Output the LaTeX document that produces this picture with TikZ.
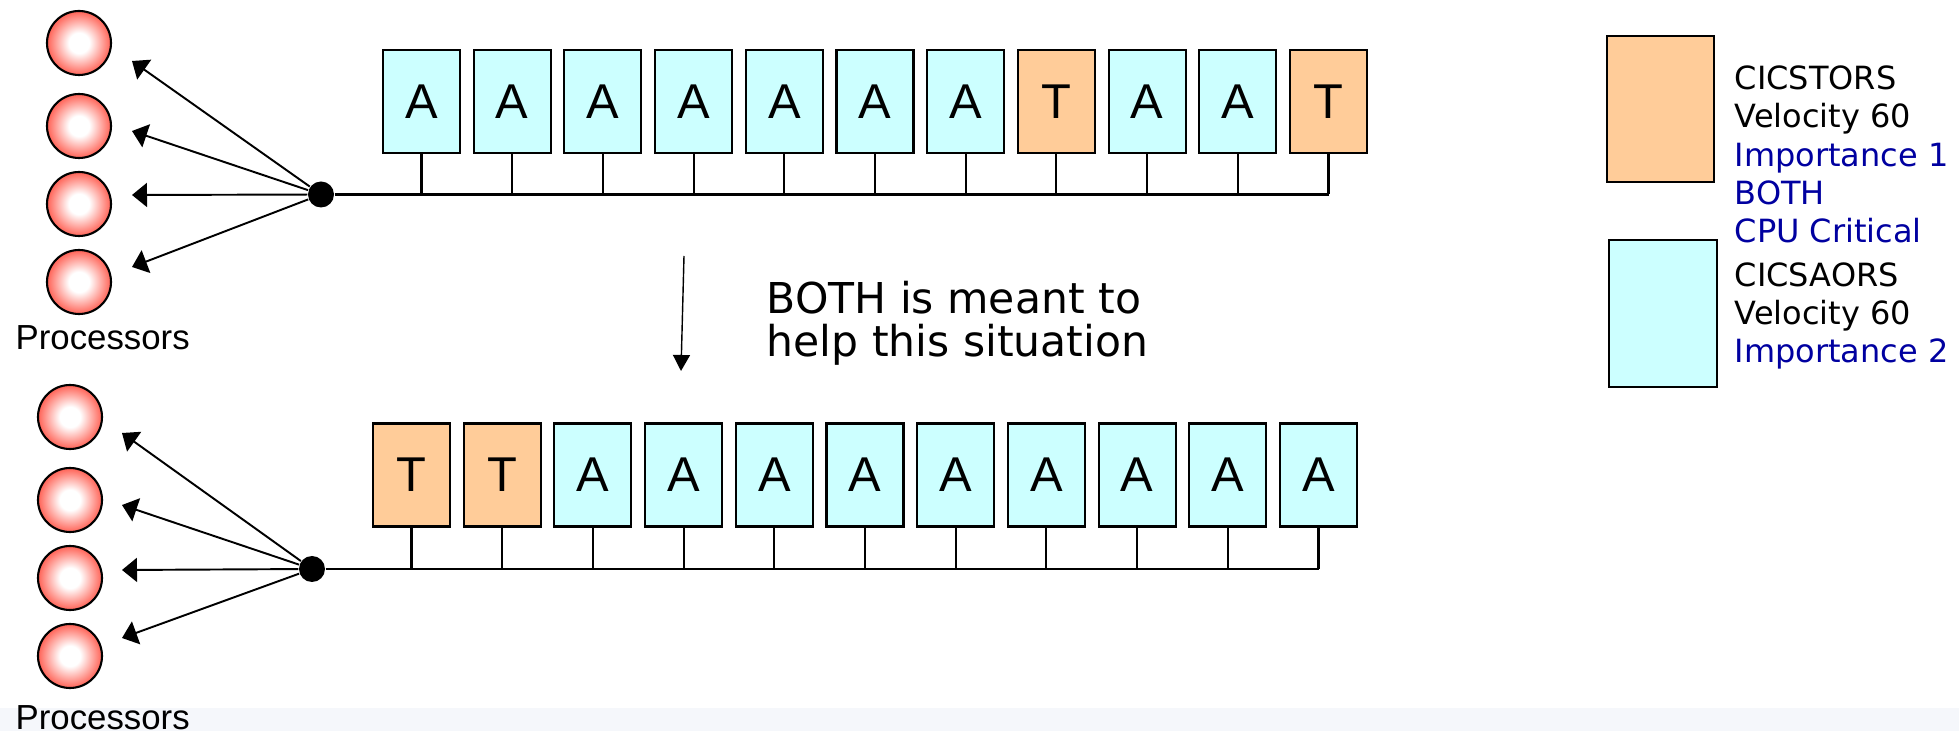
\documentclass[tikz,border=0pt]{standalone}
\usepackage{fontspec}
\setmainfont{Liberation Sans}
\newfontfamily\legendfont{DejaVu Sans}
\usetikzlibrary{arrows.meta}

\definecolor{colA}{HTML}{CCFFFF}
\definecolor{colT}{HTML}{FFCC99}
\definecolor{cpured}{HTML}{FF3424}
\definecolor{wlmblue}{HTML}{0000A0}
\definecolor{bandgray}{HTML}{F5F7FB}
\pgfdeclareradialshading{cpuball}{\pgfpoint{0bp}{0bp}}{color(0bp)=(white); color(8bp)=(white); color(30bp)=(cpured); color(50bp)=(cpured)}

\begin{document}
\begin{tikzpicture}[
  regbox/.style={draw,line width=.6pt,minimum width=.77cm,minimum height=1.03cm,inner sep=0pt,font=\fontsize{13.9}{16}\selectfont},
  cpu/.style={circle,draw,line width=.6pt,minimum size=.64cm,inner sep=0pt,shade,shading=cpuball},
  hub/.style={circle,fill=black,minimum size=.26cm,inner sep=0pt},
  feed/.style={line width=.55pt,-{Triangle[length=.15cm,width=.24cm]}},
  stem/.style={line width=.6pt},
  bus/.style={line width=.8pt},
  keybox/.style={draw,line width=.6pt,inner sep=0pt},
  cpulabel/.style={anchor=base west,inner sep=0pt,font=\fontsize{9.9}{11}\selectfont},
  legtext/.style={anchor=base west,inner sep=0pt,font=\legendfont\fontsize{9.1}{11}\selectfont}]
  \useasboundingbox (0,0) rectangle (19.59,-7.31);
  \fill[bandgray] (0,-7.08) rectangle (19.59,-7.31);

  % upper queue: mixed order
  \node[hub] (hub1) at (3.21,-1.945) {};
  \foreach \y [count=\k] in {-.43,-1.26,-2.04,-2.82} {
    \node[cpu] (cpuU\k) at (.79,\y) {};
  }
  \foreach \y [count=\k] in {-.61,-1.31,-1.95,-2.67} {
    \coordinate (tipU\k) at (1.32,\y);
    \draw[feed] (hub1) -- (tipU\k);
  }
  \node[cpulabel] (labU) at (.15,-3.50) {Processors};
  \foreach \l [count=\i from 0] in {A,A,A,A,A,A,A,T,A,A,T} {
    \node[regbox,fill=col\l] (top\i) at (4.215+.907*\i,-1.015) {\l};
    \draw[stem] (top\i.south) -- (top\i.south |- hub1);
  }
  \draw[bus] (hub1) -- (top10.south |- hub1);

  % lower queue: TORs first
  \node[hub] (hub2) at (3.12,-5.69) {};
  \foreach \y [count=\k] in {-4.17,-5.00,-5.78,-6.56} {
    \node[cpu] (cpuL\k) at (.70,\y) {};
  }
  \foreach \y [count=\k] in {-4.33,-5.05,-5.70,-6.38} {
    \coordinate (tipL\k) at (1.22,\y);
    \draw[feed] (hub2) -- (tipL\k);
  }
  \node[cpulabel] (labL) at (.15,-7.30) {Processors};
  \foreach \l [count=\i from 0] in {T,T,A,A,A,A,A,A,A,A,A} {
    \node[regbox,fill=col\l] (bot\i) at (4.115+.907*\i,-4.75) {\l};
    \draw[stem] (bot\i.south) -- (bot\i.south |- hub2);
  }
  \draw[bus] (hub2) -- (bot10.south |- hub2);

  % transition
  \coordinate (down0) at (6.84,-2.56);
  \coordinate (down1) at (6.81,-3.71);
  \draw[line width=.4pt,-{Triangle[length=.16cm,width=.17cm]}] (down0) -- (down1);
  % base of a two-line node sits on its last line
  \node[anchor=base west,inner sep=0pt,align=left,font=\legendfont\fontsize{12.1}{12.5}\selectfont] (note) at (7.66,-3.57) {BOTH is meant to\\help this situation};

  % key
  \node[keybox,fill=colT,minimum width=1.07cm,minimum height=1.46cm] (keyT) at (16.605,-1.09) {};
  \node[keybox,fill=colA,minimum width=1.08cm,minimum height=1.47cm] (keyA) at (16.63,-3.135) {};
  \foreach \txt/\y/\c [count=\k] in {CICSTORS/-.90/black,Velocity 60/-1.28/black,Importance 1/-1.67/wlmblue,BOTH/-2.05/wlmblue,CPU Critical/-2.43/wlmblue,CICSAORS/-2.87/black,Velocity 60/-3.25/black,Importance 2/-3.63/wlmblue} {
    \node[legtext,text=\c] (key\k) at (17.34,\y) {\txt};
  }
\end{tikzpicture}
\end{document}
